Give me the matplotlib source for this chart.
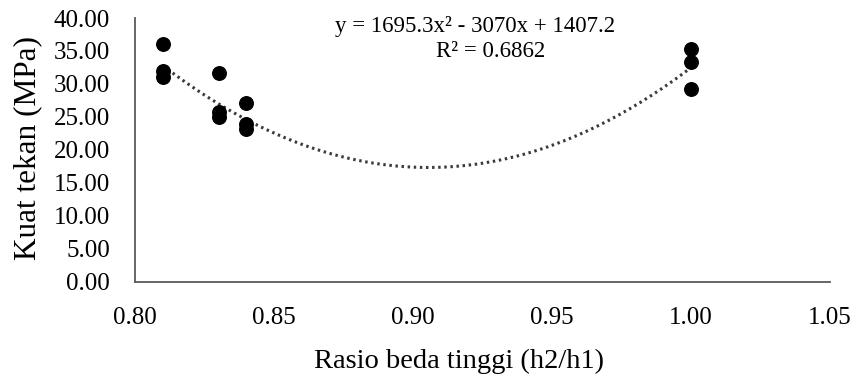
import numpy as np
import matplotlib
matplotlib.use("Agg")
import matplotlib.pyplot as plt
from matplotlib.ticker import FormatStrFormatter

# rasio beda tinggi vs kuat tekan
rasio = [0.81, 0.81, 0.81, 0.83, 0.83, 0.83, 0.84, 0.84, 0.84, 1.00, 1.00, 1.00]
kuat_tekan = [36.0, 31.9, 31.0, 31.6, 25.8, 25.0, 27.1, 24.0, 23.2, 35.3, 33.4, 29.3]

# polynomial trendline (order 2)
coef = [1695.3, -3070.0, 1407.2]
r2 = 0.6862

x_ticks = [0.80, 0.85, 0.90, 0.95, 1.00, 1.05]
y_ticks = [0, 5, 10, 15, 20, 25, 30, 35, 40]

plt.rcParams['font.family'] = ['Liberation Serif', 'DejaVu Serif']

fig = plt.figure(figsize=(8.55, 3.83), dpi=100)
ax = fig.add_axes([0.158, 0.264, 0.813, 0.689])

ax.scatter(rasio, kuat_tekan, s=95, color='black', zorder=3)

xs = np.linspace(min(rasio), max(rasio), 200)
ax.plot(xs, np.polyval(coef, xs), linestyle=(0, (0.8, 1.2)), lw=2.2,
        color='#3a3a3a', zorder=2)

eq = "y = %.1fx² - %.0fx + %.1f" % (coef[0], -coef[1], coef[2])
ax.text(0.9223, 37.9, eq, ha='center', va='baseline', fontsize=16.5)
ax.text(0.9277, 34.1, "R² = %.4f" % r2, ha='center', va='baseline', fontsize=16.5)

ax.set_xlim(0.80, 1.05)
ax.set_ylim(0, 40)
ax.set_xticks(x_ticks)
ax.set_yticks(y_ticks)
ax.xaxis.set_major_formatter(FormatStrFormatter('%.2f'))
ax.yaxis.set_major_formatter(FormatStrFormatter('%.2f'))
ax.tick_params(length=0, labelsize=18)
ax.tick_params(axis='y', pad=18)
ax.tick_params(axis='x', pad=18)

for side in ['top', 'right']:
    ax.spines[side].set_visible(False)
for side in ['left', 'bottom']:
    ax.spines[side].set_color('#595959')
    ax.spines[side].set_linewidth(1.3)

# axis titles placed in figure coordinates
ax.set_xlabel("Rasio beda tinggi (h2/h1)", fontsize=20.5)
ax.set_ylabel("Kuat tekan (MPa)", fontsize=22.5)
ax.xaxis.label.set_va('baseline')
ax.xaxis.set_label_coords(459 / 855.0, (383 - 368) / 383.0, transform=fig.transFigure)
ax.yaxis.label.set_va('center')
ax.yaxis.set_label_coords(28 / 855.0, (383 - 148) / 383.0, transform=fig.transFigure)

fig.savefig("out.png", dpi=100)
